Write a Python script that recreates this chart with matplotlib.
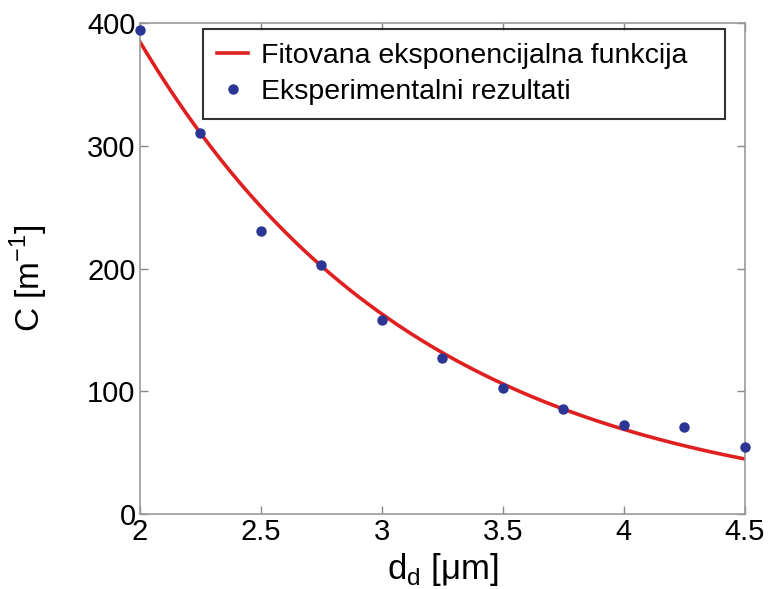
import numpy as np
import matplotlib
matplotlib.use("Agg")
import matplotlib.pyplot as plt

# Experimental data
d_exp = [2.0, 2.25, 2.5, 2.75, 3.0, 3.25, 3.5, 3.75, 4.0, 4.25, 4.5]
c_exp = [394, 310, 231, 203, 158, 127, 103, 86, 73, 71, 55]

# Fitted exponential C = a * exp(-b * d)
fit_a = 2145.0
fit_b = 0.859

x_ticks = [2, 2.5, 3, 3.5, 4, 4.5]
x_tick_labels = ["2", "2.5", "3", "3.5", "4", "4.5"]
y_ticks = [0, 100, 200, 300, 400]

plt.rcParams['font.family'] = ['Liberation Sans', 'DejaVu Sans']

fig = plt.figure(figsize=(7.68, 5.89), dpi=100)
ax = fig.add_axes([0.182, 0.127, 0.788, 0.834])

d_fit = np.linspace(2.0, 4.5, 200)
c_fit = fit_a * np.exp(-fit_b * d_fit)
ax.plot(d_fit, c_fit, color='#e02020', lw=2.6,
        label='Fitovana eksponencijalna funkcija', zorder=2)
ax.plot(d_exp, c_exp, 'o', color='#2b3593', ms=6.5,
        label='Eksperimentalni rezultati', zorder=3, clip_on=False)

ax.set_xlim(2, 4.5)
ax.set_ylim(0, 400)
ax.set_xticks(x_ticks)
ax.set_xticklabels(x_tick_labels)
ax.set_yticks(y_ticks)
ax.tick_params(direction='in', length=6, width=1, color='#888888',
               top=True, right=True, labelsize=21, pad=3)
for s in ax.spines.values():
    s.set_color('#999999')
    s.set_linewidth(1.2)

ax.set_xlabel(r'd$_\mathregular{d}$ [μm]', fontsize=25, labelpad=3)
ax.set_ylabel(r'C [m$^\mathregular{-1}$]', fontsize=24)
ax.yaxis.set_label_coords(-0.148, 0.48)

leg = ax.legend(loc='upper left', bbox_to_anchor=(0.104, 0.5, 0.863, 0.488),
                mode='expand', fontsize=20.5, frameon=True, fancybox=False,
                edgecolor='black', handlelength=1.1, handletextpad=0.45,
                borderpad=0.5, labelspacing=0.35, borderaxespad=0)
leg.get_frame().set_linewidth(1.5)

fig.savefig('out.png', dpi=100, facecolor='white')
